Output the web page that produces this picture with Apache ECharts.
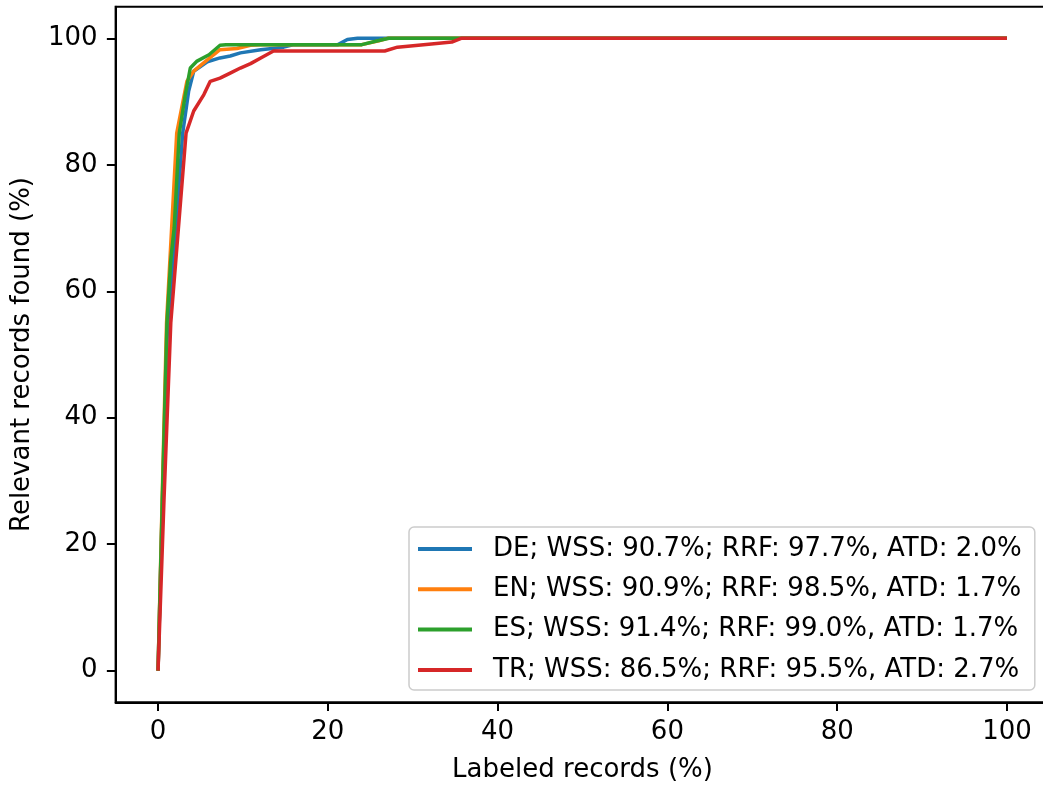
<!DOCTYPE html>
<html>
<head>
<meta charset="utf-8">
<script src="https://cdn.jsdelivr.net/npm/echarts@6/dist/echarts.min.js"></script>
<style>html,body{margin:0;padding:0;background:#fff;}#c{width:1043px;height:785px;}</style>
</head>
<body>
<div id="c"></div>
<script>
const seriesNames = [
  'DE; WSS: 90.7%; RRF: 97.7%, ATD: 2.0%',
  'EN; WSS: 90.9%; RRF: 98.5%, ATD: 1.7%',
  'ES; WSS: 91.4%; RRF: 99.0%, ATD: 1.7%',
  'TR; WSS: 86.5%; RRF: 95.5%, ATD: 2.7%'
];
const colors = ['#1f77b4', '#ff7f0e', '#2ca02c', '#d62728'];
const xTicks = [0, 20, 40, 60, 80, 100];
const yTicks = [0, 20, 40, 60, 80, 100];

const dataDE = [[0,0],[0.5,26],[1.1,54],[2.1,70],[2.9,85],[3.6,91.6],[4.2,94.8],[5.8,96.3],[7.3,96.9],[8.5,97.2],[9.7,97.7],[12.1,98.2],[14.8,98.6],[16,99],[21.2,99],[22.3,99.8],[23.5,100],[100,100]];
const dataEN = [[0,0],[0.5,28],[1.0,55],[1.6,70],[2.2,85],[3.4,93.2],[4.2,94.8],[5.8,96.6],[7.3,98.2],[9.3,98.4],[10.9,98.9],[12,99],[24,99],[26,99.6],[27,100],[100,100]];
const dataES = [[0,0],[0.5,27],[1.05,55],[1.5,65],[1.9,70],[2.5,85],[3.2,91],[3.8,95.3],[4.6,96.4],[6.0,97.4],[7.3,98.9],[8,99],[24,99],[25.5,99.5],[27.2,100],[100,100]];
const dataTR = [[0,0],[0.7,27],[1.5,55],[2.4,70],[3.3,85],[4.2,88.5],[5.4,91.1],[6.15,93.2],[7.3,93.7],[8.5,94.5],[9.7,95.3],[10.9,96],[12.1,96.9],[13.6,98],[26.7,98],[28.2,98.6],[32.2,99.1],[34.6,99.4],[35.7,100],[100,100]];
const allData = [dataDE, dataEN, dataES, dataTR];

const FONT = 'DejaVu Sans';
const FS = 26;
const chart = echarts.init(document.getElementById('c'), null, {renderer: 'canvas'});
chart.setOption({
  animation: false,
  backgroundColor: '#fff',
  grid: {left: 115.6, width: 933.8, top: 6.7, bottom: 82.7, outerBoundsMode: 'none', containLabel: false,
         show: true, borderColor: '#000', borderWidth: 2, backgroundColor: 'transparent'},
  xAxis: {
    type: 'value', min: -5, max: 105,
    name: 'Labeled records (%)', nameLocation: 'middle', nameGap: 55,
    nameTextStyle: {fontFamily: FONT, fontSize: FS, color: '#000'},
    axisLine: {show: true, onZero: false, lineStyle: {color: '#000', width: 2}},
    axisTick: {show: true, length: 8.75, lineStyle: {color: '#000', width: 2}, customValues: xTicks},
    axisLabel: {fontFamily: FONT, fontSize: FS, color: '#000', margin: 17, customValues: xTicks},
    splitLine: {show: false}
  },
  yAxis: {
    type: 'value', min: -5, max: 105,
    name: 'Relevant records found (%)', nameLocation: 'middle', nameGap: 80,
    nameTextStyle: {fontFamily: FONT, fontSize: FS, color: '#000'},
    axisLine: {show: true, onZero: false, lineStyle: {color: '#000', width: 2}},
    axisTick: {show: true, length: 8.75, lineStyle: {color: '#000', width: 2}, customValues: yTicks},
    axisLabel: {fontFamily: FONT, fontSize: FS, color: '#000', margin: 18, customValues: yTicks},
    splitLine: {show: false}
  },
  legend: {
    orient: 'vertical', left: 409, top: 527,
    padding: [9, 13, 7, 9], itemGap: 14.3,
    itemWidth: 54, itemHeight: 4, icon: 'rect',
    borderColor: '#cccccc', borderWidth: 1.5, borderRadius: 5,
    backgroundColor: 'rgba(255,255,255,0.8)',
    textStyle: {fontFamily: FONT, fontSize: FS, color: '#000', padding: [0, 0, 0, 16], lineHeight: 26},
    data: seriesNames
  },
  series: allData.map((d, i) => ({
    name: seriesNames[i], type: 'line', data: d, showSymbol: false, symbol: 'none',
    lineStyle: {color: colors[i], width: 3.5}, itemStyle: {color: colors[i]},
    z: 2 + i
  }))
});
</script>
</body>
</html>
